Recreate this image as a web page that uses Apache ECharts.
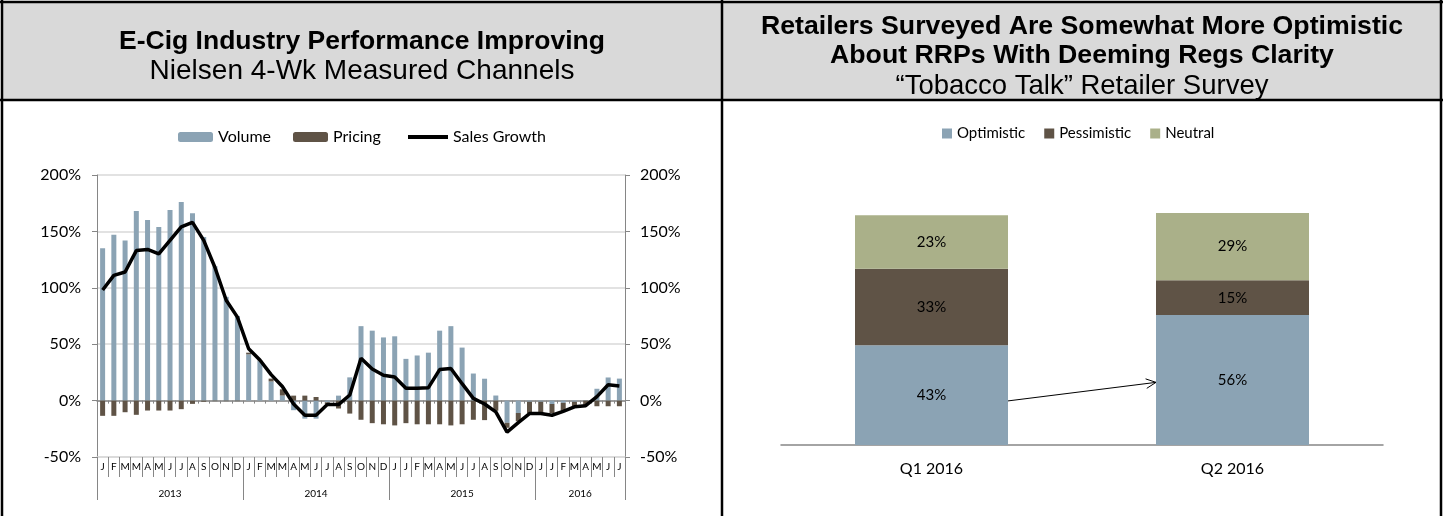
<!DOCTYPE html>
<html><head><meta charset="utf-8">
<script src="https://cdn.jsdelivr.net/npm/echarts@6/dist/echarts.min.js"></script>
<style>html,body{margin:0;padding:0;background:#fff}#c{width:1443px;height:516px}</style>
</head><body><div id="c"></div>
<script>
// ---------- Left chart data (Nielsen 4-week periods) ----------
const months = ['J','F','M','M','A','M','J','J','A','S','O','N','D',
                'J','F','M','M','A','M','J','J','A','S','O','N','D',
                'J','J','F','M','A','M','J','J','A','S','O','N','D',
                'J','J','F','M','A','M','J','J'];
const yearNames = ['2013','2014','2015','2016'];
const yearLengths = [13,13,13,8];
const volume = [135,147,142,168,160,154,169,176,166,145,119,92,75,
                41,35,17,4.5,-8.5,-16,-16,-1.5,4.4,20.6,66,62,56,
                57,37,40,42.5,62,66,47,24,19.4,4.5,-19.7,-11,-1,
                -1,-3,-2,-1,0.5,10.5,20.5,19.5];
const pricing = [-13.5,-13.5,-10.3,-12.6,-8.8,-8.8,-8.8,-7.6,-2.9,-1,-0.5,-0.5,-0.5,
                 1.5,0.5,2.5,5.5,4.4,4.4,3.2,-1.5,-7,-11.5,-17,-20,-21,
                 -22,-20,-21,-21,-21,-22,-21,-17,-17.3,-9,-4.4,-7.3,-10,
                 -10,-8,-7,-4,-4,-5,-5,-5];
const salesGrowth = [98,111,114,133,134,130,142,154,158,142,118,89,74,
                     46,36,23,12.5,-3,-13,-13,-3.5,-3.5,5,37.5,28,22.5,
                     21,11,11,11.5,27.5,28.5,15,2,-3,-10,-28,-19.5,-11.5,
                     -11.5,-13,-9.5,-5.5,-4.5,3.5,14,13];
const leftTicks = {min:-50, max:200, interval:50};

// ---------- Right chart data ----------
const quarters = ['Q1 2016','Q2 2016'];
const optimistic = [43,56];
const pessimistic = [33,15];
const neutral = [23,29];
const arrowFrom = ['Q1 2016', 19];
const arrowTo = ['Q2 2016', 27];

// ---------- derived helpers ----------
const yearOfMonth = [], yearStart = [], yearMid = [], yearEven = {};
let acc = 0;
yearNames.forEach((y,k)=>{
  yearStart.push(acc);
  const mid = acc + Math.floor(yearLengths[k]/2);
  yearMid.push(mid);
  if (yearLengths[k] % 2 === 0) yearEven[mid] = true;
  for (let i=0;i<yearLengths[k];i++) yearOfMonth.push(y);
  acc += yearLengths[k];
});

const C_BLUE='#8ba3b4', C_BROWN='#5f5346', C_NEUTRAL='#aab089', C_AXIS='#868686', C_GRID='#d9d9d9';
const FONT='Lato';
const TFONT='"Liberation Sans", Arial, sans-serif';

const chart = echarts.init(document.getElementById('c'));
const frame = [
  {type:'rect', z:-10, shape:{x:2,y:2,width:1439,height:98}, style:{fill:'#d9d9d9'}},
  {type:'line', shape:{x1:0,y1:2,x2:1443,y2:2}, style:{stroke:'#000',lineWidth:2.5}},
  {type:'line', shape:{x1:0,y1:100,x2:1443,y2:100}, style:{stroke:'#000',lineWidth:2.5}},
  {type:'line', shape:{x1:2,y1:0,x2:2,y2:516}, style:{stroke:'#000',lineWidth:2.5}},
  {type:'line', shape:{x1:722,y1:0,x2:722,y2:516}, style:{stroke:'#000',lineWidth:2.5}},
  {type:'line', shape:{x1:1441,y1:0,x2:1441,y2:516}, style:{stroke:'#000',lineWidth:2.5}}
];
function ttl(text, x, y, bold, size){
  return {type:'text', x:x, y:y, style:{text:text, font:(bold?'bold ':'')+size+'px '+TFONT, fill:'#000',
    align:'center', textAlign:'center', verticalAlign:'middle', textVerticalAlign:'middle'}};
}
const titles = [
  ttl('E-Cig Industry Performance Improving', 362, 42, true, 26.5),
  ttl('Nielsen 4-Wk Measured Channels', 362, 71, false, 28),
  ttl('Retailers Surveyed Are Somewhat More Optimistic', 1082, 27, true, 26.7),
  ttl('About RRPs With Deeming Regs Clarity', 1082, 56, true, 26.7),
  ttl('\u201CTobacco Talk\u201D Retailer Survey', 1082, 86, false, 27.5)
];

const option = {
  animation:false,
  textStyle:{fontFamily:FONT},
  graphic: frame.concat(titles),
  legend:[
    {left:178, top:129, padding:0, itemWidth:35, itemHeight:10, itemGap:22,
     textStyle:{fontSize:16,color:'#000',fontFamily:FONT}, data:['Volume','Pricing']},
    {left:408, top:129, padding:0, itemWidth:40, itemHeight:4, icon:'rect',
     textStyle:{fontSize:16,color:'#000',fontFamily:FONT}, data:['Sales Growth']},
    {left:942, top:126, padding:0, itemWidth:10, itemHeight:10, itemGap:19, icon:'rect',
     textStyle:{fontSize:15,color:'#000',fontFamily:FONT}, data:['Optimistic','Pessimistic','Neutral']}
  ],
  grid:[
    {left:97, right:818, top:175, bottom:59},
    {left:781, right:60, top:213, bottom:71}
  ],
  xAxis:[
    {gridIndex:0, type:'category', data:months, position:'bottom',
     axisLine:{onZero:true, onZeroAxisIndex:0, lineStyle:{color:C_AXIS,width:1.5}},
     axisTick:{show:true,interval:0,length:3,lineStyle:{color:C_AXIS}}, axisLabel:{show:false}, splitLine:{show:false}},
    {gridIndex:0, type:'category', data:months, position:'bottom',
     axisLine:{show:true,onZero:false,lineStyle:{color:C_GRID,width:1.5}},
     axisTick:{show:true,interval:0,length:20,lineStyle:{color:C_AXIS}},
     axisLabel:{interval:0, margin:5, fontSize:10, color:'#000'}},
    {gridIndex:0, type:'category', data:months, position:'bottom',
     axisLine:{show:true,onZero:false,lineStyle:{color:C_GRID,width:1.5,opacity:0}},
     axisTick:{show:true,interval:(i)=>yearStart.includes(i), length:43, lineStyle:{color:C_AXIS}},
     axisLabel:{interval:(i)=>yearMid.includes(i), margin:32, fontSize:10, color:'#000',
       formatter:(v,i)=> yearEven[i] ? '{e|'+yearOfMonth[i]+'}' : yearOfMonth[i],
       rich:{e:{fontSize:10,color:'#000',fontFamily:FONT,padding:[0,11,0,0]}}}},
    {gridIndex:1, type:'category', data:quarters,
     axisLine:{lineStyle:{color:C_AXIS,width:1.5}}, axisTick:{show:false},
     axisLabel:{fontSize:16,color:'#000',margin:16}}
  ],
  yAxis:[
    {gridIndex:0, type:'value', position:'left', min:leftTicks.min, max:leftTicks.max, interval:leftTicks.interval,
     axisLine:{show:true,lineStyle:{color:C_AXIS}}, axisTick:{show:true,length:5,lineStyle:{color:C_AXIS}},
     axisLabel:{formatter:'{value}%', fontSize:16, color:'#000', margin:16},
     splitLine:{lineStyle:{color:C_GRID,width:1.5}}},
    {gridIndex:0, type:'value', position:'right', min:leftTicks.min, max:leftTicks.max, interval:leftTicks.interval,
     axisLine:{show:true,lineStyle:{color:C_AXIS}}, axisTick:{show:true,length:5,lineStyle:{color:C_AXIS}},
     axisLabel:{formatter:'{value}%', fontSize:16, color:'#000', margin:15},
     splitLine:{show:false}},
    {gridIndex:1, type:'value', min:0, max:100, show:false}
  ],
  series:[
    {name:'Volume', type:'bar', xAxisIndex:0, yAxisIndex:0, stack:'vp', data:volume, barWidth:5,
     itemStyle:{color:C_BLUE}},
    {name:'Pricing', type:'bar', xAxisIndex:0, yAxisIndex:0, stack:'vp', data:pricing, barWidth:5,
     itemStyle:{color:C_BROWN}},
    {name:'Sales Growth', type:'line', xAxisIndex:0, yAxisIndex:0, data:salesGrowth, symbol:'none',
     lineStyle:{color:'#000',width:3.5}, itemStyle:{color:'#000'}, z:5},
    {name:'Optimistic', type:'bar', xAxisIndex:3, yAxisIndex:2, stack:'s', data:optimistic, barWidth:153,
     itemStyle:{color:C_BLUE}, label:{show:true,formatter:'{c}%',fontSize:15,color:'#000'}},
    {name:'Pessimistic', type:'bar', xAxisIndex:3, yAxisIndex:2, stack:'s', data:pessimistic, barWidth:153,
     itemStyle:{color:C_BROWN}, label:{show:true,formatter:'{c}%',fontSize:15,color:'#000'}},
    {name:'Neutral', type:'bar', xAxisIndex:3, yAxisIndex:2, stack:'s', data:neutral, barWidth:153,
     itemStyle:{color:C_NEUTRAL}, label:{show:true,formatter:'{c}%',fontSize:15,color:'#000'}}
  ]
};
chart.setOption(option);

// arrow between the two optimistic bars (positions from the axes)
const p0 = chart.convertToPixel({xAxisIndex:3, yAxisIndex:2}, arrowFrom);
const p1 = chart.convertToPixel({xAxisIndex:3, yAxisIndex:2}, arrowTo);
const half = 153/2;
const x0 = p0[0]+half, y0 = p0[1], x1 = p1[0]-half, y1 = p1[1];
const ang = Math.atan2(y1-y0, x1-x0), hl = 11, ha = 0.45;
chart.setOption({graphic: frame.concat(titles).concat([
  {type:'line', shape:{x1:x0,y1:y0,x2:x1,y2:y1}, style:{stroke:'#000',lineWidth:1}, z:10},
  {type:'polyline', shape:{points:[
     [x1-hl*Math.cos(ang-ha), y1-hl*Math.sin(ang-ha)], [x1,y1],
     [x1-hl*Math.cos(ang+ha), y1-hl*Math.sin(ang+ha)]]}, style:{stroke:'#000',lineWidth:1,fill:null}, z:10}
])});
</script></body></html>
